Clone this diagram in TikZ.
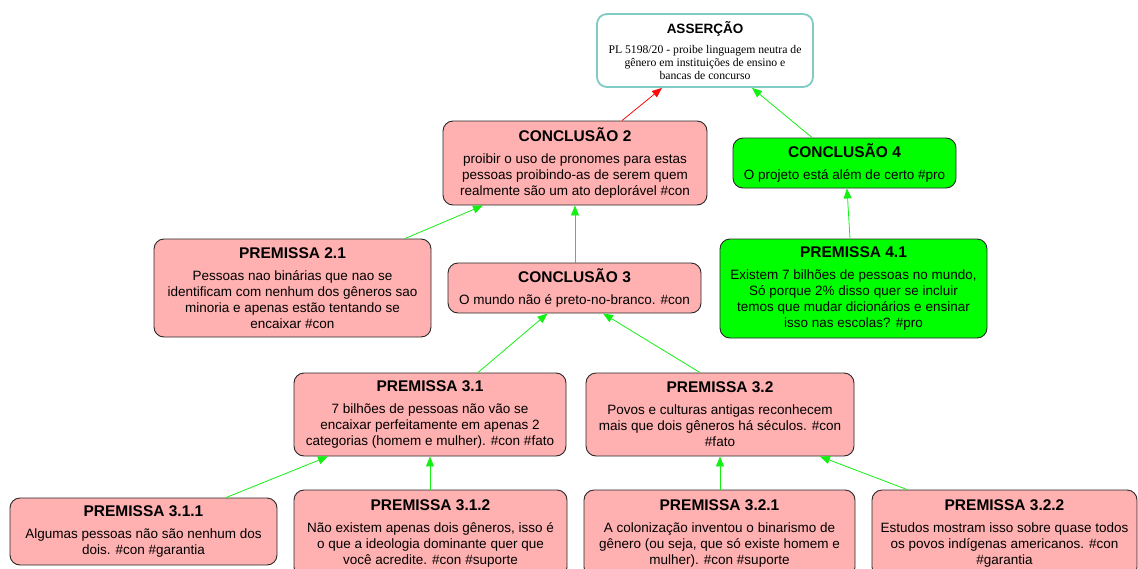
\documentclass[tikz,border=0pt]{standalone}
\usepackage{fontspec}
\setmainfont{Liberation Sans}
\newfontfamily\timesfont{Liberation Serif}
\usetikzlibrary{arrows.meta}

\definecolor{pinkfill}{RGB}{255,176,176}
\definecolor{greenfill}{RGB}{0,255,0}
\definecolor{boxline}{RGB}{40,40,40}
\definecolor{tealline}{RGB}{128,204,196}
\definecolor{linkgreen}{RGB}{20,240,20}
\definecolor{linkred}{RGB}{250,10,10}

\newcommand{\ttl}[1]{{\fontsize{15.5}{18}\selectfont\bfseries #1}}

\tikzset{
  box/.style={draw=boxline, line width=0.9pt, rounded corners=10pt,
    inner sep=0pt, align=center, font=\fontsize{13.5}{16}\selectfont},
  conbox/.style={box, fill=pinkfill},
  probox/.style={box, fill=greenfill},
  claimbox/.style={draw=tealline, line width=1.8pt, fill=white, rounded corners=10pt,
    inner sep=0pt, align=center, font=\timesfont\fontsize{11.7}{13}\selectfont},
  link/.style={draw=linkgreen, line width=0.8pt, -{Triangle[length=10pt,width=8pt]}},
  attack/.style={link, draw=linkred}
}

\begin{document}
\begin{tikzpicture}[x=1pt,y=-1pt]
\useasboundingbox (0,0) rectangle (1138,568);

% claim
\node[claimbox, minimum width=216pt, minimum height=73pt] (ass) at (705,50.5)
  {{\rmfamily\fontsize{13.5}{16}\selectfont\bfseries ASSERÇÃO}\\[6.7pt]
   PL 5198/20 - proibe linguagem neutra de\\
   gênero em instituições de ensino e\\
   bancas de concurso};

% conclusions
\node[conbox, minimum width=264pt, minimum height=84pt] (c2) at (575,163)
  {\ttl{CONCLUSÃO 2}\\[6pt]
   proibir o uso de pronomes para estas\\
   pessoas proibindo-as de serem quem\\
   realmente são um ato deplorável \#con};

\node[probox, minimum width=223pt, minimum height=50pt] (c4) at (844.5,163)
  {\ttl{CONCLUSÃO 4}\\[6pt]
   O projeto está além de certo \#pro};

\node[conbox, minimum width=253pt, minimum height=50pt] (c3) at (574.5,288)
  {\ttl{CONCLUSÃO 3}\\[6pt]
   O mundo não é preto-no-branco. \#con};

% premises
\node[conbox, minimum width=277pt, minimum height=98pt] (p21) at (292.5,288)
  {\ttl{PREMISSA 2.1}\\[6pt]
   Pessoas nao binárias que nao se\\
   identificam com nenhum dos gêneros sao\\
   minoria e apenas estão tentando se\\
   encaixar \#con};

\node[probox, minimum width=267pt, minimum height=99pt] (p41) at (853.5,288.5)
  {\ttl{PREMISSA 4.1}\\[6pt]
   Existem 7 bilhões de pessoas no mundo,\\
   Só porque 2\% disso quer se incluir\\
   temos que mudar dicionários e ensinar\\
   isso nas escolas? \#pro};

\node[conbox, minimum width=272pt, minimum height=83pt] (p31) at (430,414.5)
  {\ttl{PREMISSA 3.1}\\[6pt]
   7 bilhões de pessoas não vão se\\
   encaixar perfeitamente em apenas 2\\
   categorias (homem e mulher). \#con \#fato};

\node[conbox, minimum width=268pt, minimum height=83pt] (p32) at (720,414.5)
  {\ttl{PREMISSA 3.2}\\[6pt]
   Povos e culturas antigas reconhecem\\
   mais que dois gêneros há séculos. \#con\\
   \#fato};

\node[conbox, minimum width=267pt, minimum height=67pt] (p311) at (143.5,531.5)
  {\ttl{PREMISSA 3.1.1}\\[6pt]
   Algumas pessoas não são nenhum dos\\
   dois. \#con \#garantia};

\node[conbox, minimum width=273pt, minimum height=87pt] (p312) at (430.5,533.5)
  {\ttl{PREMISSA 3.1.2}\\[6pt]
   Não existem apenas dois gêneros, isso é\\
   o que a ideologia dominante quer que\\
   você acredite. \#con \#suporte};

\node[conbox, minimum width=271pt, minimum height=87pt] (p321) at (719.5,533.5)
  {\ttl{PREMISSA 3.2.1}\\[6pt]
   A colonização inventou o binarismo de\\
   gênero (ou seja, que só existe homem e\\
   mulher). \#con \#suporte};

\node[conbox, minimum width=265pt, minimum height=87pt] (p322) at (1004.5,533.5)
  {\ttl{PREMISSA 3.2.2}\\[6pt]
   Estudos mostram isso sobre quase todos\\
   os povos indígenas americanos. \#con\\
   \#garantia};

% connectors
\draw[attack] ([xshift=47pt]c2.north) -- ([xshift=-43pt]ass.south);
\draw[link] ([xshift=-32.5pt]c4.north) -- ([xshift=47pt]ass.south);
\draw[link] ([xshift=-3.5pt]p41.north) -- ([xshift=2.5pt]c4.south);
\draw[link] ([xshift=112.5pt]p21.north) -- ([xshift=-92pt]c2.south);
\draw[link] ([xshift=0.5pt]c3.north) -- (c2.south);
\draw[link] ([xshift=48pt]p31.north) -- ([xshift=-27pt]c3.south);
\draw[link] ([xshift=-20pt]p32.north) -- ([xshift=28.5pt]c3.south);
\draw[link] ([xshift=82.5pt]p311.north) -- ([xshift=-102pt]p31.south);
\draw[link] ([xshift=-0.5pt]p312.north) -- (p31.south);
\draw[link] ([xshift=0.5pt]p321.north) -- (p32.south);
\draw[link] ([xshift=-97.5pt]p322.north) -- ([xshift=100pt]p32.south);
\end{tikzpicture}
\end{document}
